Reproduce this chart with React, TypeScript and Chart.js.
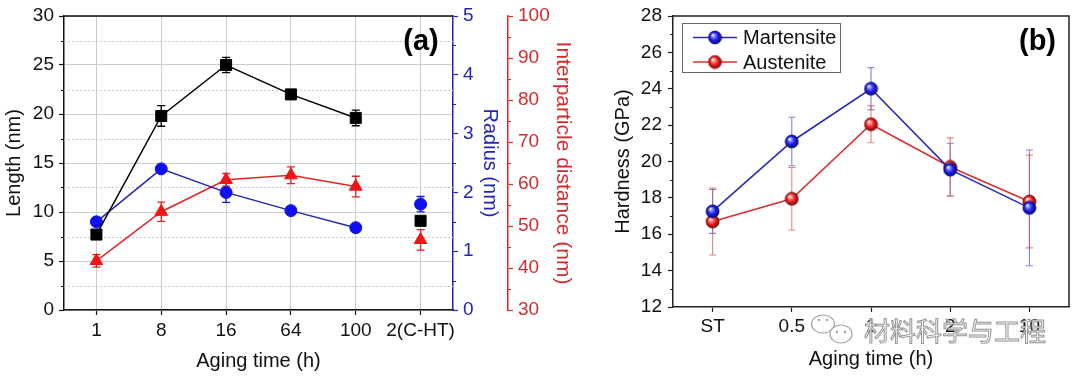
import React, { useEffect, useRef } from "react";
import { Chart, registerables } from "chart.js";

Chart.register(...registerables);

const FONT = "'Liberation Sans', Arial, sans-serif";

// ---------- Panel (a) data ----------
const agingLabelsA = ["1", "8", "16", "64", "100", "2(C-HT)"];
const lengthValues = [7.7, 19.8, 25.0, 22.0, 19.6, 9.1];
const lengthErrors = [0, 1.05, 0.78, 0.47, 0.8, 0];
const radiusValues = [1.5, 2.4, 2.0, 1.69, 1.4, 1.8];
const radiusErrors = [0, 0, 0.17, 0, 0, 0.13];
const distanceValues = [41.7, 53.4, 61.0, 62.1, 59.4, 46.7];
const distanceErrors = [1.5, 2.3, 1.5, 2.0, 2.45, 2.45];
const lengthTicks = [0, 5, 10, 15, 20, 25, 30];
const lengthMinorTicks = [2.5, 7.5, 12.5, 17.5, 22.5, 27.5];
const radiusTicks = [0, 1, 2, 3, 4, 5];
const radiusMinorTicks = [0.5, 1.5, 2.5, 3.5, 4.5];
const distanceTicks = [30, 40, 50, 60, 70, 80, 90, 100];
const distanceMinorTicks = [35, 45, 55, 65, 75, 85, 95];

// ---------- Panel (b) data ----------
const agingLabelsB = ["ST", "0.5", "1", "2", "10"];
const martensiteValues = [17.26, 21.1, 24.0, 19.55, 17.45];
const martensiteErrors = [1.21, 1.33, 1.16, 1.45, 3.18];
const austeniteValues = [16.7, 17.95, 22.05, 19.7, 17.8];
const austeniteErrors = [1.84, 1.72, 1.02, 1.6, 2.55];
const hardnessTicks = [12, 14, 16, 18, 20, 22, 24, 26, 28];
const hardnessMinorTicks = [13, 15, 17, 19, 21, 23, 25, 27];

const BLUE_AXIS = "#2323b6";
const RED_AXIS = "#d42a2a";

const toXY = (vals: number[]) => vals.map((v, i) => ({ x: i + 1, y: v }));

const errorBarPlugin = {
  id: "errorBars",
  beforeDatasetsDraw(chart: any) {
    const ctx = chart.ctx;
    chart.data.datasets.forEach((ds: any, di: number) => {
      const errs = ds.errorBars as number[] | undefined;
      if (!errs) return;
      const meta = chart.getDatasetMeta(di);
      const yScale = chart.scales[meta.yAxisID];
      ctx.save();
      ctx.strokeStyle = ds.errorColor;
      ctx.lineWidth = ds.errorWidth;
      meta.data.forEach((pt: any, i: number) => {
        const e = errs[i];
        if (!e) return;
        const v = ds.data[i].y;
        const x = pt.x;
        const y1 = yScale.getPixelForValue(v + e);
        const y2 = yScale.getPixelForValue(v - e);
        const cw = ds.errorCap;
        ctx.beginPath();
        ctx.moveTo(x, y1);
        ctx.lineTo(x, y2);
        ctx.moveTo(x - cw, y1);
        ctx.lineTo(x + cw, y1);
        ctx.moveTo(x - cw, y2);
        ctx.lineTo(x + cw, y2);
        ctx.stroke();
      });
      ctx.restore();
    });
  },
};

function drawMinorTicks(ctx: any, scale: any, values: number[], side: "left" | "right", len: number, color: string) {
  ctx.save();
  ctx.strokeStyle = color;
  ctx.lineWidth = 1.2;
  ctx.beginPath();
  values.forEach((v) => {
    const y = Math.round(scale.getPixelForValue(v)) + 0.5;
    if (side === "left") {
      ctx.moveTo(scale.right, y);
      ctx.lineTo(scale.right - len, y);
    } else {
      ctx.moveTo(scale.left, y);
      ctx.lineTo(scale.left + len, y);
    }
  });
  ctx.stroke();
  ctx.restore();
}

function makeSphere(light: string, base: string, dark: string, r: number) {
  const c = document.createElement("canvas");
  const s = Math.ceil(r * 2 + 2);
  c.width = s;
  c.height = s;
  const g = c.getContext("2d")!;
  const cx = s / 2;
  const cy = s / 2;
  const grad = g.createRadialGradient(cx - r * 0.35, cy - r * 0.4, r * 0.05, cx, cy, r);
  grad.addColorStop(0, "#ffffff");
  grad.addColorStop(0.22, light);
  grad.addColorStop(0.6, base);
  grad.addColorStop(1, dark);
  g.fillStyle = grad;
  g.beginPath();
  g.arc(cx, cy, r, 0, Math.PI * 2);
  g.fill();
  g.strokeStyle = dark;
  g.lineWidth = 0.8;
  g.stroke();
  return c;
}

function fixedY(width: number) {
  return (s: any) => {
    s.width = width;
    s.paddingTop = 0;
    s.paddingBottom = 0;
  };
}
function fixedX(height: number) {
  return (s: any) => {
    s.height = height;
    s.paddingLeft = 0;
    s.paddingRight = 0;
  };
}

function configA(): any {
  const tickFont = { family: FONT, size: 19 };
  const titleFont = { family: FONT, size: 20 };
  const framePlugin = {
    id: "frameA",
    beforeDatasetsDraw(chart: any) {
      const { ctx, chartArea } = chart;
      const ys = chart.scales.y;
      ctx.save();
      ctx.strokeStyle = "#c9c9c9";
      ctx.lineWidth = 1;
      ctx.setLineDash([2, 2]);
      ctx.beginPath();
      lengthMinorTicks.forEach((v) => {
        const y = Math.round(ys.getPixelForValue(v)) + 0.5;
        ctx.moveTo(chartArea.left, y);
        ctx.lineTo(chartArea.right, y);
      });
      ctx.stroke();
      ctx.restore();
    },
    afterDraw(chart: any) {
      const { ctx, chartArea } = chart;
      ctx.save();
      ctx.strokeStyle = "#111";
      ctx.lineWidth = 1.5;
      ctx.beginPath();
      ctx.moveTo(chartArea.left, chartArea.top);
      ctx.lineTo(chartArea.right, chartArea.top);
      ctx.stroke();
      ctx.restore();
      drawMinorTicks(ctx, chart.scales.y, lengthMinorTicks, "left", 3, "#111");
      drawMinorTicks(ctx, chart.scales.yR, radiusMinorTicks, "right", 3, BLUE_AXIS);
      drawMinorTicks(ctx, chart.scales.yD, distanceMinorTicks, "right", 3, RED_AXIS);
      ctx.save();
      ctx.fillStyle = "#000";
      ctx.font = `bold 29px ${FONT}`;
      ctx.textAlign = "center";
      ctx.textBaseline = "middle";
      ctx.fillText("(a)", 421, 42);
      ctx.restore();
    },
  };

  return {
    type: "line",
    data: {
      datasets: [
        {
          label: "Length",
          data: toXY(lengthValues),
          yAxisID: "y",
          borderColor: "#000",
          backgroundColor: "#000",
          borderWidth: 1.5,
          pointStyle: "rect",
          pointRadius: 7.8,
          pointBorderWidth: 1,
          segment: { borderColor: (c: any) => (c.p1DataIndex === 5 ? "rgba(0,0,0,0)" : "#000") },
          errorBars: lengthErrors,
          errorColor: "#000",
          errorWidth: 1.3,
          errorCap: 4,
        },
        {
          label: "Radius",
          data: toXY(radiusValues),
          yAxisID: "yR",
          borderColor: "#2424b2",
          backgroundColor: "#1010ee",
          pointBorderColor: "#1010ee",
          borderWidth: 1.5,
          pointStyle: "circle",
          pointRadius: 6,
          pointBorderWidth: 1,
          segment: { borderColor: (c: any) => (c.p1DataIndex === 5 ? "rgba(0,0,0,0)" : "#2424b2") },
          errorBars: radiusErrors,
          errorColor: "#1a1ad0",
          errorWidth: 1.3,
          errorCap: 4,
        },
        {
          label: "Distance",
          data: toXY(distanceValues),
          yAxisID: "yD",
          borderColor: "#de2626",
          backgroundColor: "#f21414",
          pointBorderColor: "#f21414",
          borderWidth: 1.5,
          pointStyle: "triangle",
          pointRadius: 7.3,
          pointBorderWidth: 1,
          segment: { borderColor: (c: any) => (c.p1DataIndex === 5 ? "rgba(0,0,0,0)" : "#de2626") },
          errorBars: distanceErrors,
          errorColor: "#e22020",
          errorWidth: 1.3,
          errorCap: 4,
        },
      ],
    },
    options: {
      responsive: false,
      animation: false,
      events: [],
      layout: { padding: { top: 16, left: 0, right: 24, bottom: 0 }, autoPadding: false },
      plugins: { legend: { display: false }, tooltip: { enabled: false } },
      scales: {
        x: {
          type: "linear",
          position: "bottom",
          min: 0.5,
          max: 6.5,
          afterBuildTicks: (s: any) => {
            s.ticks = agingLabelsA.map((_, i) => ({ value: i + 1 }));
          },
          afterFit: fixedX(68),
          ticks: {
            color: "#111",
            font: tickFont,
            padding: 4,
            maxRotation: 0,
            autoSkip: false,
            callback: (v: any) => agingLabelsA[Math.round(v) - 1] ?? "",
          },
          grid: { color: "#cdcdcd", lineWidth: 1, tickColor: "#111", tickLength: 5, tickWidth: 1.2 },
          border: { color: "#111", width: 1.5 },
          title: { display: true, text: "Aging time (h)", color: "#111", font: titleFont, padding: { top: 0, bottom: 5 } },
        },
        y: {
          type: "linear",
          position: "left",
          min: 0,
          max: 30,
          afterBuildTicks: (s: any) => {
            s.ticks = lengthTicks.map((v) => ({ value: v }));
          },
          afterFit: fixedY(64),
          ticks: { color: "#111", font: tickFont, padding: 5 },
          grid: { color: "#cdcdcd", lineWidth: 1, tickColor: "#111", tickLength: 5, tickWidth: 1.2 },
          border: { color: "#111", width: 1.5 },
          title: { display: true, text: "Length (nm)", color: "#111", font: titleFont, padding: { top: 2, bottom: 0 } },
        },
        yR: {
          type: "linear",
          position: "right",
          weight: 0,
          min: 0,
          max: 5,
          afterBuildTicks: (s: any) => {
            s.ticks = radiusTicks.map((v) => ({ value: v }));
          },
          afterFit: fixedY(55),
          ticks: { color: BLUE_AXIS, font: tickFont, padding: 5 },
          grid: { drawOnChartArea: false, tickColor: BLUE_AXIS, tickLength: 5, tickWidth: 1.2 },
          border: { color: BLUE_AXIS, width: 1.5 },
          title: { display: true, text: "Radius (nm)", color: BLUE_AXIS, font: titleFont, padding: { top: 6, bottom: 0 } },
        },
        yD: {
          type: "linear",
          position: "right",
          weight: 1,
          min: 30,
          max: 100,
          afterBuildTicks: (s: any) => {
            s.ticks = distanceTicks.map((v) => ({ value: v }));
          },
          afterFit: fixedY(68),
          ticks: { color: RED_AXIS, font: tickFont, padding: 5 },
          grid: { drawOnChartArea: false, tickColor: RED_AXIS, tickLength: 5, tickWidth: 1.2 },
          border: { color: RED_AXIS, width: 1.5 },
          title: {
            display: true,
            text: "Interparticle distance (nm)",
            color: RED_AXIS,
            font: { family: FONT, size: 21 },
            padding: { top: 1, bottom: 0 },
          },
        },
      },
    },
    plugins: [errorBarPlugin, framePlugin],
  };
}

function configB(spheres: { blue: HTMLCanvasElement; red: HTMLCanvasElement }): any {
  const tickFont = { family: FONT, size: 19 };
  const titleFont = { family: FONT, size: 20 };
  const MART = "#2b2bb0";
  const AUST = "#db2f2f";
  const framePlugin = {
    id: "frameB",
    afterDraw(chart: any) {
      const { ctx, chartArea } = chart;
      ctx.save();
      ctx.strokeStyle = "#222";
      ctx.lineWidth = 1.5;
      ctx.beginPath();
      ctx.moveTo(chartArea.left, chartArea.top);
      ctx.lineTo(chartArea.right, chartArea.top);
      ctx.lineTo(chartArea.right, chartArea.bottom);
      ctx.stroke();
      ctx.restore();
      drawMinorTicks(ctx, chart.scales.y, hardnessMinorTicks, "left", 3, "#222");

      // legend
      ctx.save();
      ctx.strokeStyle = "#666";
      ctx.lineWidth = 1;
      ctx.strokeRect(82.5, 23.5, 158, 49);
      const entries = [
        { text: "Martensite", color: MART, img: spheres.blue, y: 37.5 },
        { text: "Austenite", color: AUST, img: spheres.red, y: 62 },
      ];
      ctx.font = `20px ${FONT}`;
      ctx.textBaseline = "middle";
      ctx.textAlign = "left";
      entries.forEach((e) => {
        ctx.strokeStyle = e.color;
        ctx.lineWidth = 1.5;
        ctx.beginPath();
        ctx.moveTo(93, e.y);
        ctx.lineTo(137, e.y);
        ctx.stroke();
        ctx.drawImage(e.img, 115 - e.img.width / 2, e.y - e.img.height / 2);
        ctx.fillStyle = "#111";
        ctx.fillText(e.text, 143, e.y + 1);
      });
      ctx.restore();

      // panel label
      ctx.save();
      ctx.fillStyle = "#000";
      ctx.font = `bold 29px ${FONT}`;
      ctx.textAlign = "center";
      ctx.textBaseline = "middle";
      ctx.fillText("(b)", 437.5, 42);
      ctx.restore();

      // watermark
      ctx.save();
      ctx.strokeStyle = "rgba(150,150,150,0.9)";
      ctx.fillStyle = "rgba(255,255,255,0.9)";
      ctx.lineWidth = 1.2;
      ctx.beginPath();
      ctx.ellipse(223, 324, 11.5, 9, 0, 0, Math.PI * 2);
      ctx.fill();
      ctx.stroke();
      ctx.beginPath();
      ctx.ellipse(241, 334, 11, 9, 0, 0, Math.PI * 2);
      ctx.fill();
      ctx.stroke();
      ctx.fillStyle = "rgba(150,150,150,0.9)";
      [
        [219, 320],
        [227, 320],
        [237, 332],
        [245, 332],
      ].forEach(([x, y]) => {
        ctx.beginPath();
        ctx.arc(x, y, 1.2, 0, Math.PI * 2);
        ctx.fill();
      });
      ctx.font = `26px 'Noto Sans CJK SC', sans-serif`;
      ctx.textAlign = "left";
      ctx.textBaseline = "middle";
      ctx.fillStyle = "rgba(255,255,255,0.85)";
      ctx.fillText("材料科学与工程", 264, 331);
      ctx.strokeStyle = "rgba(130,130,130,0.85)";
      ctx.lineWidth = 1;
      ctx.strokeText("材料科学与工程", 264, 331);
      ctx.restore();
    },
  };

  return {
    type: "line",
    data: {
      datasets: [
        {
          label: "Martensite",
          data: toXY(martensiteValues),
          yAxisID: "y",
          borderColor: MART,
          borderWidth: 1.6,
          pointStyle: spheres.blue,
          pointRadius: 7,
          errorBars: martensiteErrors,
          errorColor: "rgba(80,80,190,0.7)",
          errorWidth: 1.1,
          errorCap: 3.5,
        },
        {
          label: "Austenite",
          data: toXY(austeniteValues),
          yAxisID: "y",
          borderColor: AUST,
          borderWidth: 1.6,
          pointStyle: spheres.red,
          pointRadius: 7,
          errorBars: austeniteErrors,
          errorColor: "rgba(215,80,80,0.7)",
          errorWidth: 1.1,
          errorCap: 3.5,
        },
      ],
    },
    options: {
      responsive: false,
      animation: false,
      events: [],
      layout: { padding: { top: 16, left: 0, right: 11, bottom: 0 }, autoPadding: false },
      plugins: { legend: { display: false }, tooltip: { enabled: false } },
      scales: {
        x: {
          type: "linear",
          position: "bottom",
          min: 0.5,
          max: 5.5,
          afterBuildTicks: (s: any) => {
            s.ticks = agingLabelsB.map((_, i) => ({ value: i + 1 }));
          },
          afterFit: fixedX(71),
          ticks: {
            color: "#111",
            font: tickFont,
            padding: 3,
            maxRotation: 0,
            autoSkip: false,
            callback: (v: any) => agingLabelsB[Math.round(v) - 1] ?? "",
          },
          grid: { drawOnChartArea: false, tickColor: "#222", tickLength: 5, tickWidth: 1.2 },
          border: { color: "#222", width: 1.5 },
          title: { display: true, text: "Aging time (h)", color: "#111", font: titleFont, padding: { top: 0, bottom: 7 } },
        },
        y: {
          type: "linear",
          position: "left",
          min: 12,
          max: 28,
          afterBuildTicks: (s: any) => {
            s.ticks = hardnessTicks.map((v) => ({ value: v }));
          },
          afterFit: fixedY(73),
          ticks: { color: "#111", font: tickFont, padding: 6 },
          grid: { drawOnChartArea: false, tickColor: "#222", tickLength: 5, tickWidth: 1.2 },
          border: { color: "#222", width: 1.5 },
          title: { display: true, text: "Hardness (GPa)", color: "#111", font: titleFont, padding: { top: 11, bottom: 0 } },
        },
      },
    },
    plugins: [errorBarPlugin, framePlugin],
  };
}

export default function App() {
  const refA = useRef<HTMLCanvasElement>(null);
  const refB = useRef<HTMLCanvasElement>(null);

  useEffect(() => {
    const spheres = {
      blue: makeSphere("#8a8aff", "#1c1cf0", "#0a0a70", 6.5),
      red: makeSphere("#ff9a9a", "#f01c1c", "#7a0a0a", 6.5),
    };
    const a = new Chart(refA.current as HTMLCanvasElement, configA());
    const b = new Chart(refB.current as HTMLCanvasElement, configB(spheres));
    return () => {
      a.destroy();
      b.destroy();
    };
  }, []);

  return (
    <div
      style={{
        position: "absolute",
        left: 0,
        top: 0,
        width: 1080,
        height: 378,
        background: "#fff",
        overflow: "hidden",
      }}
    >
      <canvas
        ref={refA}
        width={600}
        height={378}
        style={{ position: "absolute", left: 0, top: 0, width: 600, height: 378 }}
      />
      <canvas
        ref={refB}
        width={480}
        height={378}
        style={{ position: "absolute", left: 600, top: 0, width: 480, height: 378 }}
      />
    </div>
  );
}
